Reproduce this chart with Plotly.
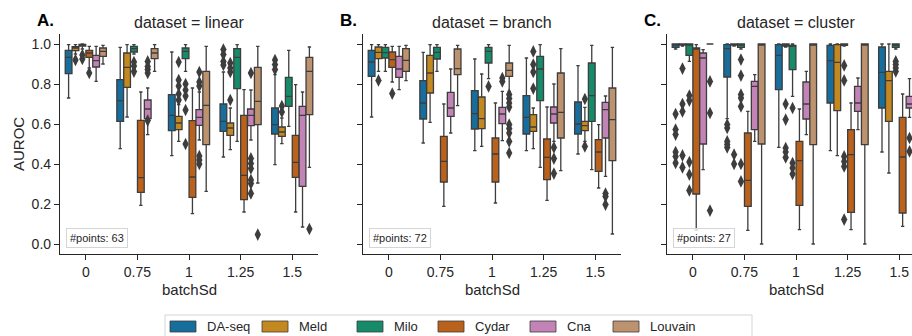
import plotly.graph_objects as go

# ---------------- data ----------------
BATCH_SD = ["0", "0.75", "1", "1.25", "1.5"]
METHODS = ["DA-seq", "Meld", "Milo", "Cydar", "Cna", "Louvain"]
COLORS = ["#176d9c", "#c38820", "#168b6a", "#ba611b", "#c283b6", "#bd926e"]
DATASETS = ["linear", "branch", "cluster"]
PANEL_LETTERS = ["A.", "B.", "C."]
N_POINTS = [63, 72, 27]
Y_TICKS = [0.0, 0.2, 0.4, 0.6, 0.8, 1.0]

# per method: one (lower whisker, q1, median, q3, upper whisker) per batchSd
LINEAR = {
    "DA-seq": [(0.73, 0.852, 0.933, 0.968, 0.997), (0.477, 0.613, 0.717, 0.822, 0.983),
               (0.442, 0.567, 0.643, 0.747, 0.96), (0.435, 0.563, 0.613, 0.70, 0.86),
               (0.397, 0.55, 0.597, 0.68, 0.847)],
    "Meld": [(0.95, 0.967, 0.98, 0.987, 0.997), (0.635, 0.783, 0.883, 0.955, 0.997),
             (0.513, 0.572, 0.605, 0.638, 0.697), (0.472, 0.543, 0.58, 0.605, 0.68),
             (0.502, 0.538, 0.56, 0.585, 0.63)],
    "Milo": [(0.975, 0.99, 0.995, 0.998, 1.0), (0.95, 0.96, 0.977, 0.988, 0.997),
             (0.863, 0.927, 0.963, 0.98, 0.997), (0.513, 0.777, 0.933, 0.977, 0.997),
             (0.588, 0.688, 0.738, 0.833, 0.968)],
    "Cydar": [(0.88, 0.933, 0.955, 0.968, 0.988), (0.193, 0.258, 0.332, 0.618, 0.76),
              (0.152, 0.233, 0.335, 0.617, 0.78), (0.16, 0.222, 0.343, 0.643, 0.772),
              (0.16, 0.333, 0.408, 0.543, 0.797)],
    "Cna": [(0.813, 0.885, 0.917, 0.943, 0.988), (0.547, 0.627, 0.675, 0.72, 0.78),
            (0.52, 0.593, 0.633, 0.672, 0.76), (0.52, 0.592, 0.643, 0.675, 0.77),
            (0.085, 0.288, 0.643, 0.688, 0.76)],
    "Louvain": [(0.9, 0.938, 0.963, 0.98, 0.993), (0.863, 0.927, 0.955, 0.977, 0.997),
                (0.263, 0.497, 0.693, 0.863, 0.988), (0.305, 0.597, 0.713, 0.883, 0.988),
                (0.383, 0.647, 0.863, 0.933, 0.985)],
}
LINEAR_OUT = {
    "DA-seq": {3: [0.972, 0.947, 0.913, 0.895], 4: [0.92, 0.897, 0.872]},
    "Meld": {0: [0.92], 2: [0.91, 0.82, 0.79, 0.75, 0.72], 3: [0.905, 0.88, 0.86, 0.72],
             4: [0.69, 0.66]},
    "Milo": {0: [0.945, 0.925], 1: [0.91, 0.89, 0.862], 2: [0.80, 0.77, 0.74, 0.67, 0.50]},
    "Cydar": {0: [0.855]},
    "Cna": {1: [0.913, 0.888, 0.872, 0.855, 0.617], 2: [0.86, 0.81, 0.79, 0.44, 0.42, 0.40],
            3: [0.855, 0.428, 0.403, 0.378, 0.32, 0.303, 0.253]},
    "Louvain": {3: [0.047], 4: [0.075]},
}

BRANCH = {
    "DA-seq": [(0.635, 0.838, 0.91, 0.968, 0.997), (0.505, 0.625, 0.705, 0.817, 0.958),
               (0.467, 0.575, 0.652, 0.767, 0.925), (0.467, 0.55, 0.633, 0.742, 0.93),
               (0.45, 0.55, 0.60, 0.71, 0.892)],
    "Meld": [(0.863, 0.927, 0.958, 0.985, 0.997), (0.608, 0.755, 0.855, 0.943, 0.997),
             (0.488, 0.577, 0.627, 0.735, 0.85), (0.477, 0.563, 0.585, 0.647, 0.68),
             (0.513, 0.567, 0.592, 0.613, 0.683)],
    "Milo": [(0.863, 0.93, 0.957, 0.983, 0.997), (0.863, 0.925, 0.958, 0.983, 0.997),
             (0.827, 0.905, 0.963, 0.983, 0.997), (0.383, 0.717, 0.875, 0.938, 0.997),
             (0.372, 0.613, 0.742, 0.905, 0.993)],
    "Cydar": [(0.81, 0.883, 0.922, 0.96, 0.988), (0.188, 0.31, 0.413, 0.538, 0.70),
              (0.205, 0.31, 0.45, 0.53, 0.705), (0.218, 0.322, 0.433, 0.525, 0.685),
              (0.28, 0.363, 0.46, 0.522, 0.597)],
    "Cna": [(0.772, 0.833, 0.875, 0.938, 0.988), (0.555, 0.638, 0.68, 0.758, 0.875),
            (0.517, 0.602, 0.65, 0.683, 0.763), (0.513, 0.605, 0.65, 0.685, 0.80),
            (0.338, 0.53, 0.672, 0.708, 0.74)],
    "Louvain": [(0.817, 0.863, 0.918, 0.977, 0.993), (0.692, 0.847, 0.877, 0.975, 0.993),
                (0.763, 0.838, 0.868, 0.905, 0.993), (0.367, 0.53, 0.658, 0.855, 0.977),
                (0.05, 0.417, 0.622, 0.78, 0.983)],
}
BRANCH_OUT = {
    "Meld": {0: [0.818], 3: [0.963, 0.897, 0.86, 0.777], 4: [0.725, 0.488]},
    "Milo": {2: [0.788]},
    "Cydar": {0: [0.752]},
    "Cna": {2: [0.83, 0.813], 3: [0.483, 0.427, 0.352], 4: [0.252, 0.238, 0.197]},
    "Louvain": {2: [0.747, 0.727, 0.705, 0.685, 0.597, 0.577, 0.555, 0.513, 0.455]},
}

CLUSTER = {
    "DA-seq": [(0.975, 0.983, 0.997, 1.0, 1.0), (0.627, 0.835, 0.977, 0.997, 1.0),
               (0.483, 0.772, 0.943, 0.997, 1.0), (0.467, 0.705, 0.917, 0.993, 1.0),
               (0.46, 0.68, 0.858, 0.985, 1.0)],
    "Meld": [(0.99, 0.995, 1.0, 1.0, 1.0), (0.99, 0.995, 1.0, 1.0, 1.0),
             (0.985, 0.99, 0.997, 1.0, 1.0), (0.442, 0.667, 0.908, 0.997, 1.0),
             (0.355, 0.613, 0.817, 0.863, 1.0)],
    "Milo": [(0.913, 0.943, 0.997, 1.0, 1.0), (0.975, 0.983, 0.997, 1.0, 1.0),
             (0.738, 0.872, 0.988, 0.993, 1.0), (0.99, 0.993, 0.997, 1.0, 1.0),
             (0.975, 0.983, 0.993, 1.0, 1.0)],
    "Cydar": [(0.07, 0.25, 0.977, 0.98, 0.997), (0.068, 0.188, 0.318, 0.555, 0.663),
              (0.072, 0.193, 0.417, 0.513, 0.675), (0.072, 0.158, 0.447, 0.572, 0.705),
              (0.088, 0.155, 0.435, 0.633, 0.75)],
    "Cna": [(0.372, 0.50, 0.93, 0.955, 0.972), (0.513, 0.572, 0.788, 0.813, 0.847),
            (0.547, 0.625, 0.70, 0.81, 0.863), (0.572, 0.663, 0.705, 0.788, 0.83),
            (0.633, 0.68, 0.70, 0.738, 0.827)],
    "Louvain": [(1.0, 1.0, 1.0, 1.0, 1.0), (0.0, 0.5, 1.0, 1.0, 1.0),
                (0.0, 0.497, 1.0, 1.0, 1.0), (0.0, 0.497, 1.0, 1.0, 1.0),
                (0.0, 0.5, 1.0, 1.0, 1.0)],
}
CLUSTER_OUT = {
    "DA-seq": {0: [0.65, 0.572, 0.547, 0.46, 0.438, 0.405], 1: [0.597, 0.58, 0.513, 0.497, 0.483]},
    "Meld": {0: [0.877, 0.70, 0.663, 0.443, 0.383], 1: [0.447, 0.40],
             2: [0.70, 0.622, 0.48, 0.46, 0.433]},
    "Milo": {0: [0.742, 0.717, 0.41, 0.347, 0.268], 1: [0.922, 0.842, 0.747, 0.73, 0.688, 0.40, 0.313],
             2: [0.68, 0.405, 0.38, 0.35], 3: [0.893, 0.818, 0.438, 0.413, 0.388, 0.122],
             4: [0.913, 0.897, 0.88, 0.863]},
    "Cna": {4: [0.53, 0.463]},
    "Louvain": {0: [0.813, 0.655, 0.167]},
}

STATS = [LINEAR, BRANCH, CLUSTER]
OUTLIERS = [LINEAR_OUT, BRANCH_OUT, CLUSTER_OUT]

# ---------------- layout constants (pixels) ----------------
W, H = 912, 336
FONT = "Liberation Sans, Arial, sans-serif"
LINE = "#3d3d3d"
AX = "#262626"
PANEL_LEFT = [60, 363, 667]
PANEL_W = 258
PLOT_TOP, PLOT_BOTTOM = 34, 254
X_RANGE = (-0.5, 4.5)
Y_RANGE = (-0.05, 1.05)
LEGEND_X = [170, 262, 357, 438, 530, 613]


def px(x):
    return x / W


def py(y):
    return 1 - y / H


fig = go.Figure()
n = len(METHODS)
group_w = 0.8
bw = group_w / n

for p, (stats, outs) in enumerate(zip(STATS, OUTLIERS)):
    xa = "x" if p == 0 else f"x{p + 1}"
    ya = "y" if p == 0 else f"y{p + 1}"
    for k, m in enumerate(METHODS):
        off = -group_w / 2 + bw * (k + 0.5)
        xs = [g + off for g in range(len(BATCH_SD))]
        s = stats[m]
        fig.add_trace(go.Box(
            x=xs, orientation="v",
            lowerfence=[r[0] for r in s], q1=[r[1] for r in s], median=[r[2] for r in s],
            q3=[r[3] for r in s], upperfence=[r[4] for r in s],
            width=bw * 0.98, whiskerwidth=0.5,
            fillcolor=COLORS[k], line=dict(color=LINE, width=1.3),
            boxpoints=False, showlegend=False, hoverinfo="skip",
            xaxis=xa, yaxis=ya,
        ))
        ox, oy = [], []
        for g, vals in outs.get(m, {}).items():
            ox += [g + off] * len(vals)
            oy += vals
        if ox:
            fig.add_trace(go.Scatter(
                x=ox, y=oy, mode="markers", showlegend=False, hoverinfo="skip",
                marker=dict(symbol="diamond-tall", size=9, color=LINE, line=dict(width=0)),
                xaxis=xa, yaxis=ya,
            ))

annotations = []
shapes = []
layout_axes = {}


def label(text, x, y, size, xanchor="center", yanchor="middle", **kw):
    d = dict(text=text, x=px(x), y=py(y), xref="paper", yref="paper", showarrow=False,
             xanchor=xanchor, yanchor=yanchor,
             font=dict(size=size, color=kw.pop("color", AX), family=FONT))
    d.update(kw)
    annotations.append(d)


for p in range(3):
    left = PANEL_LEFT[p]
    right = min(left + PANEL_W, W)
    unit = PANEL_W / (X_RANGE[1] - X_RANGE[0])
    xr = (X_RANGE[0], X_RANGE[0] + (right - left) / unit)
    sx = "" if p == 0 else str(p + 1)
    layout_axes[f"xaxis{sx}"] = dict(
        domain=[px(left), px(right)], range=list(xr), anchor=f"y{sx}",
        tickvals=list(range(len(BATCH_SD))), ticktext=BATCH_SD,
        showline=True, linecolor=AX, linewidth=1.25, ticks="outside", ticklen=5,
        tickwidth=1.25, tickcolor=AX, showgrid=False, zeroline=False,
        tickfont=dict(size=14, color=AX, family=FONT),
    )
    layout_axes[f"yaxis{sx}"] = dict(
        domain=[py(PLOT_BOTTOM), py(PLOT_TOP)], range=list(Y_RANGE), anchor=f"x{sx}",
        tickvals=Y_TICKS, tickformat=".1f", showticklabels=(p == 0),
        showline=True, linecolor=AX, linewidth=1.25, ticks="outside", ticklen=5,
        tickwidth=1.25, tickcolor=AX, showgrid=False, zeroline=False,
        tickfont=dict(size=14, color=AX, family=FONT),
    )
    cx = left + PANEL_W / 2
    label(f"dataset = {DATASETS[p]}", cx, 23, 16)
    label(f"<b>{PANEL_LETTERS[p]}</b>", left - 25, 20, 17, xanchor="left", color="#000000")
    label("batchSd", cx, 289, 15)
    label(f"#points: {N_POINTS[p]}", left + 6, 248, 11, xanchor="left", yanchor="bottom",
          bgcolor="rgba(255,255,255,0.8)", bordercolor="#d5d5d5", borderwidth=1, borderpad=3)

label("AUROC", 18, (PLOT_TOP + PLOT_BOTTOM) / 2, 15, textangle=-90)

# legend (drawn manually, matplotlib style)
shapes.append(dict(type="rect", xref="paper", yref="paper", x0=px(165), x1=px(752),
                   y0=py(350), y1=py(315), line=dict(color="#d5d5d5", width=1),
                   fillcolor="white", layer="below"))
for k, m in enumerate(METHODS):
    lx = LEGEND_X[k]
    shapes.append(dict(type="rect", xref="paper", yref="paper", x0=px(lx), x1=px(lx + 26),
                       y0=py(332), y1=py(321), fillcolor=COLORS[k],
                       line=dict(color=LINE, width=0.8)))
    label(m, lx + 35, 326.5, 13, xanchor="left")

fig.update_layout(
    width=W, height=H, margin=dict(l=0, r=0, t=0, b=0),
    paper_bgcolor="white", plot_bgcolor="white",
    boxmode="overlay", annotations=annotations, shapes=shapes,
    font=dict(family=FONT, color=AX),
    **layout_axes,
)

fig.write_html("out.html")
